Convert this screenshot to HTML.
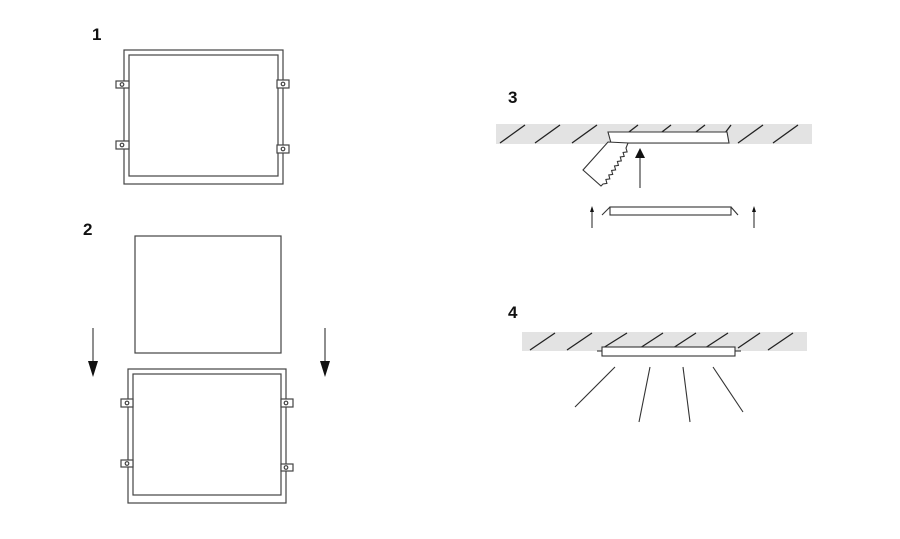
<!DOCTYPE html>
<html><head><style>
html,body{margin:0;padding:0;background:#fff;}
svg{display:block;}
text{font-family:"Liberation Sans",sans-serif;font-weight:bold;font-size:17px;fill:#111;}
</style></head><body>
<svg width="900" height="539" viewBox="0 0 900 539" xmlns="http://www.w3.org/2000/svg">
<g fill="none" stroke="#444" stroke-width="1.2">
<rect x="124" y="50" width="159" height="134"/>
<rect x="129" y="55" width="149" height="121"/>
<rect x="116" y="81" width="13" height="7" fill="#fff"/><circle cx="122" cy="84.5" r="1.8"/>
<rect x="116" y="141" width="13" height="8" fill="#fff"/><circle cx="122" cy="145" r="1.8"/>
<rect x="277" y="80" width="12" height="8" fill="#fff"/><circle cx="283" cy="84" r="1.8"/>
<rect x="277" y="145" width="12" height="8" fill="#fff"/><circle cx="283" cy="149" r="1.8"/>
<rect x="135" y="236" width="146" height="117"/>
<rect x="128" y="369" width="158" height="134"/>
<rect x="133" y="374" width="148" height="121"/>
<rect x="121" y="399" width="12" height="8" fill="#fff"/><circle cx="127" cy="403" r="1.8"/>
<rect x="121" y="460" width="12" height="7" fill="#fff"/><circle cx="127" cy="463.5" r="1.8"/>
<rect x="281" y="399" width="12" height="8" fill="#fff"/><circle cx="286" cy="403" r="1.8"/>
<rect x="281" y="464" width="12" height="7" fill="#fff"/><circle cx="286" cy="467.5" r="1.8"/>
<line x1="93" y1="328" x2="93" y2="362"/>
<line x1="325" y1="328" x2="325" y2="362"/>
</g>
<polygon points="88,361 98,361 93,377" fill="#111"/>
<polygon points="320,361 330,361 325,377" fill="#111"/>

<rect x="496" y="124" width="316" height="20" fill="#e3e3e3"/>
<g stroke="#222" stroke-width="1.3">
<line x1="500" y1="143" x2="525" y2="125"/>
<line x1="535" y1="143" x2="560" y2="125"/>
<line x1="572" y1="143" x2="597" y2="125"/>
<line x1="625" y1="135" x2="638" y2="125"/>
<line x1="658" y1="135" x2="671" y2="125"/>
<line x1="692" y1="135" x2="705" y2="125"/>
<line x1="725" y1="133" x2="731" y2="125"/>
<line x1="738" y1="143" x2="763" y2="125"/>
<line x1="773" y1="143" x2="798" y2="125"/>
</g>
<polygon points="608,132 727,132 729,143 611,143" fill="#fff" stroke="#333" stroke-width="1.1"/>
<polygon points="608,142 628,143 626,148 627.1,151.9 623.1,152.5 624.2,156.4 620.3,157 621.3,160.9 617.4,161.5 618.4,165.4 614.5,166 615.6,169.9 611.6,170.5 612.7,174.4 608.8,175 609.8,178.9 605.9,179.5 606.9,183.4 603,184 601,186 583,170" fill="#fff" stroke="#333" stroke-width="1.1" stroke-linejoin="miter"/>
<line x1="640" y1="157" x2="640" y2="188" stroke="#333" stroke-width="1.1"/>
<polygon points="635,158 645,158 640,148" fill="#111"/>
<g fill="none" stroke="#333" stroke-width="1.1">
<rect x="610" y="207" width="121" height="8"/>
<line x1="602" y1="215" x2="610" y2="207"/>
<line x1="731" y1="207" x2="738" y2="215"/>
<line x1="592" y1="228" x2="592" y2="210"/>
<line x1="754" y1="228" x2="754" y2="210"/>
</g>
<polygon points="590,212 594,212 592,206" fill="#111"/>
<polygon points="752,212 756,212 754,206" fill="#111"/>

<rect x="522" y="332" width="285" height="19" fill="#e3e3e3"/>
<g stroke="#222" stroke-width="1.3">
<line x1="530" y1="350" x2="555" y2="333"/>
<line x1="567" y1="350" x2="592" y2="333"/>
<line x1="603" y1="348" x2="627" y2="333"/>
<line x1="640" y1="348" x2="663" y2="333"/>
<line x1="673" y1="348" x2="696" y2="333"/>
<line x1="705" y1="348" x2="728" y2="333"/>
<line x1="738" y1="348" x2="760" y2="333"/>
<line x1="768" y1="350" x2="793" y2="333"/>
</g>
<g fill="none" stroke="#333" stroke-width="1.1">
<rect x="602" y="347" width="133" height="9" fill="#fff"/>
<line x1="597" y1="351" x2="602" y2="351"/>
<line x1="735" y1="351" x2="741" y2="351"/>
<line x1="615" y1="367" x2="575" y2="407"/>
<line x1="650" y1="367" x2="639" y2="422"/>
<line x1="683" y1="367" x2="690" y2="422"/>
<line x1="713" y1="367" x2="743" y2="412"/>
</g>

<text x="92" y="40">1</text>
<text x="83" y="235">2</text>
<text x="508" y="103">3</text>
<text x="508" y="318">4</text>
</svg>
</body></html>
